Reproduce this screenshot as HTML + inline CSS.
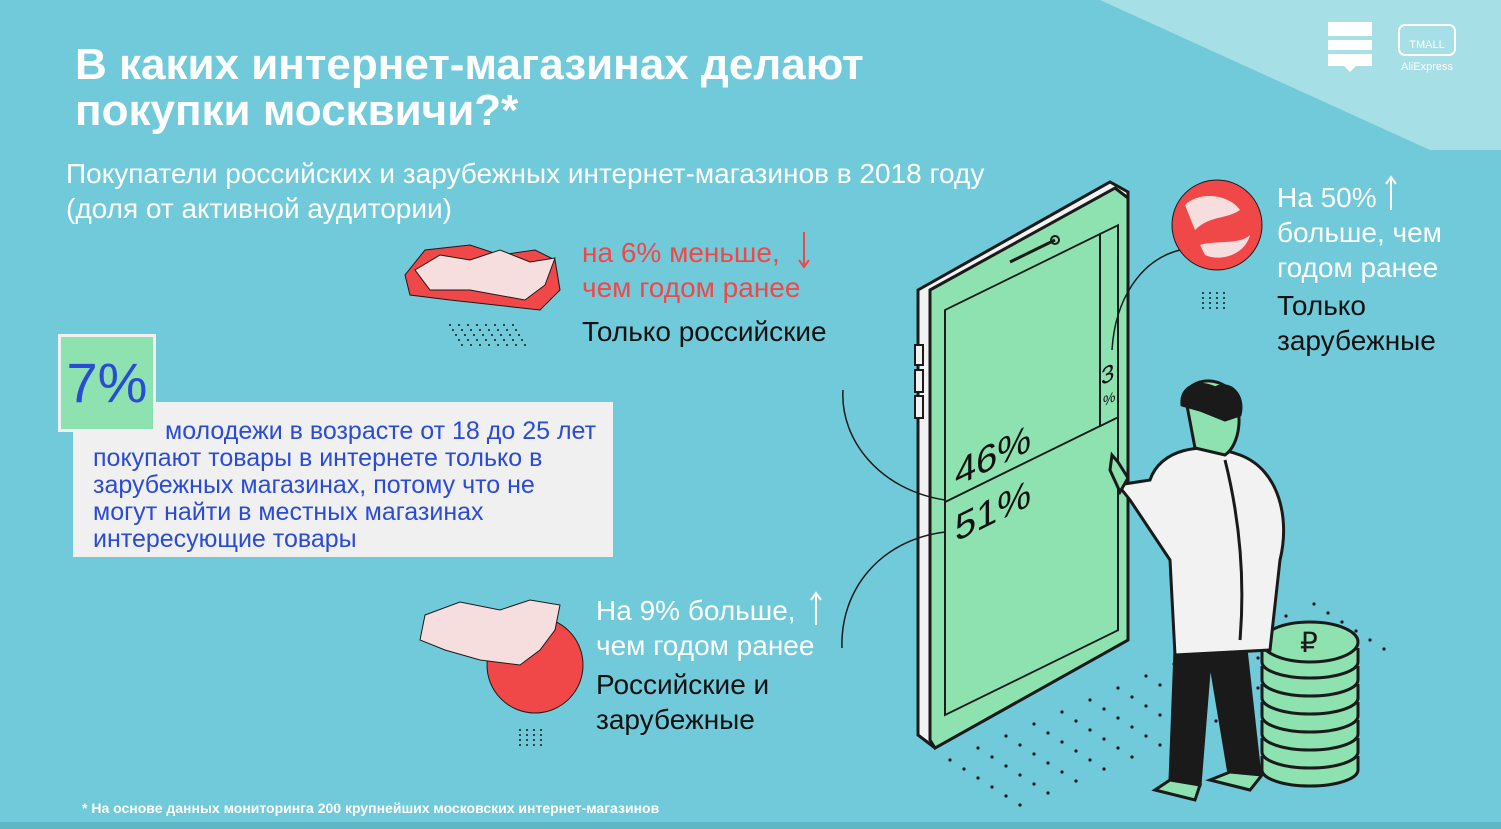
<!DOCTYPE html>
<html><head><meta charset="utf-8"><style>
body{margin:0;width:1501px;height:829px;overflow:hidden;background:#71cad9;font-family:"Liberation Sans",sans-serif;position:relative}
.t{position:absolute;margin:0}
</style></head><body>
<svg width="1501" height="829" style="position:absolute;left:0;top:0">
<polygon points="1100,0 1501,0 1501,150 1430,150" fill="#a6dfe6"/>
<rect x="0" y="822" width="1501" height="7" fill="#5fb7c6"/>
<g fill="#fff"><rect x="1328" y="22" width="44" height="14"/><rect x="1328" y="40" width="44" height="10"/><polygon points="1328,54 1372,54 1372,66 1356,66 1350,72 1344,66 1328,66"/></g>
<g><rect x="1399" y="25" width="56" height="30" rx="6" fill="none" stroke="#fff" stroke-width="2"/><text x="1427" y="48" font-size="11" fill="#fff" text-anchor="middle">TMALL</text><text x="1427" y="70" font-size="11" fill="#fff" text-anchor="middle">AliExpress</text></g>
<g fill="#1a1a1a" id="dots"></g>
<g>
<polygon points="918,290 1110,182 1128,192 1128,640 935,748 918,735" fill="#f2f2f2" stroke="#1a1a1a" stroke-width="3"/>
<polygon points="930,290 1115,188 1128,198 1128,640 935,748 930,740" fill="#8de2b0" stroke="#1a1a1a" stroke-width="3"/>
<g id="screen" transform="matrix(1,-0.49,0,1,945,310)"></g>
<line x1="1010" y1="262" x2="1055" y2="240" stroke="#1a1a1a" stroke-width="3"/>
<circle cx="1055" cy="240" r="4" fill="none" stroke="#1a1a1a" stroke-width="2"/>
<rect x="915" y="345" width="8" height="20" fill="#f2f2f2" stroke="#1a1a1a" stroke-width="2"/>
<rect x="915" y="370" width="8" height="22" fill="#f2f2f2" stroke="#1a1a1a" stroke-width="2"/>
<rect x="915" y="396" width="8" height="22" fill="#f2f2f2" stroke="#1a1a1a" stroke-width="2"/>
</g>
<g fill="none" stroke="#1a1a1a" stroke-width="1.5">
<path d="M843,390 C840,440 880,490 945,500"/><path d="M842,648 C840,590 880,540 945,532"/><path d="M1180,250 C1140,260 1115,300 1112,350"/>
</g>
<g stroke="#1a1a1a" stroke-width="3" fill="#8de2b0" id="coins"></g>
<g stroke="#1a1a1a" stroke-width="3">
<path d="M1175,650 L1170,780 L1200,785 L1210,660 L1230,780 L1260,775 L1245,640 Z" fill="#1a1a1a"/>
<path d="M1150,480 C1160,450 1200,440 1240,455 C1280,470 1290,520 1280,560 L1270,650 L1175,655 L1170,560 L1130,500 L1118,485 Z" fill="#f2f2f2"/>
<path d="M1225,460 C1240,520 1245,580 1240,640" fill="none"/>
<path d="M1185,395 C1190,380 1215,375 1230,390 C1245,410 1240,445 1225,455 L1195,448 Z" fill="#8de2b0"/>
<path d="M1182,405 C1180,385 1200,380 1215,388 C1230,380 1245,395 1240,415 L1225,420 L1200,410 Z" fill="#1a1a1a"/>
<path d="M1110,470 L1112,455 L1118,462 L1128,478 L1120,492 Z" fill="#8de2b0"/>
<path d="M1155,790 L1195,800 L1200,785 L1170,780 Z M1210,780 L1250,790 L1262,775 L1230,772 Z" fill="#8de2b0"/>
</g>
<g>
<polygon points="450,300 540,310 560,290 555,260 535,250 500,255 470,245 425,250 405,275 410,295" fill="#f04848" stroke="#1a1a1a" stroke-width="1"/>
<polygon points="415,270 440,255 470,260 500,250 530,262 555,258 545,285 525,300 470,290 430,290" fill="#f7dede" stroke="#1a1a1a" stroke-width="1"/>
</g>
<g>
<circle cx="535" cy="665" r="48" fill="#f04848" stroke="#1a1a1a" stroke-width="1"/>
<polygon points="425,615 460,602 500,610 530,600 560,605 555,630 540,650 520,665 480,660 445,650 420,640" fill="#f7dede" stroke="#1a1a1a" stroke-width="1"/>
</g>
<g>
<circle cx="1217" cy="225" r="45" fill="#f04848" stroke="#1a1a1a" stroke-width="1"/>
<path d="M1185,205 C1200,190 1230,195 1240,210 C1225,220 1210,215 1195,230 Z M1200,245 C1215,240 1240,245 1250,235 C1245,255 1220,262 1205,255 Z" fill="#f7dede"/>
</g>
<g stroke="#f04848" stroke-width="2" fill="none"><line x1="804" y1="232" x2="804" y2="266"/><polyline points="799,260 804,267 809,260"/></g>
<g stroke="#fff" stroke-width="2" fill="none"><line x1="816" y1="594" x2="816" y2="625"/><polyline points="811,600 816,593 821,600"/></g>
<g stroke="#fff" stroke-width="2" fill="none"><line x1="1391" y1="178" x2="1391" y2="210"/><polyline points="1386,184 1391,177 1396,184"/></g>
</svg>
<h1 class="t" style="left:75px;top:42px;font-size:44px;line-height:46px;color:#fff;font-weight:bold">В каких интернет-магазинах делают<br>покупки москвичи?*</h1>
<div class="t" style="left:66px;top:156px;font-size:28px;line-height:35px;color:#fff">Покупатели российских и зарубежных интернет-магазинов в 2018 году<br>(доля от активной аудитории)</div>
<div class="t" style="left:582px;top:235px;font-size:28px;line-height:35px;color:#f04848">на 6% меньше,<br>чем годом ранее</div>
<div class="t" style="left:582px;top:316px;font-size:28px;color:#111">Только российские</div>
<div class="t" style="left:596px;top:593px;font-size:28px;line-height:35px;color:#fff">На 9% больше,<br>чем годом ранее</div>
<div class="t" style="left:596px;top:667px;font-size:28px;line-height:35px;color:#111">Российские и<br>зарубежные</div>
<div class="t" style="left:1277px;top:180px;font-size:28px;line-height:35px;color:#fff">На 50%<br>больше, чем<br>годом ранее</div>
<div class="t" style="left:1277px;top:288px;font-size:28px;line-height:35px;color:#111">Только<br>зарубежные</div>
<div class="t" style="left:73px;top:402px;width:540px;height:155px;background:#f0f0f0"></div>
<div class="t" style="left:58px;top:334px;width:92px;height:92px;background:#8de2b0;border:3px solid #f0f0f0;font-size:56px;line-height:92px;text-align:center;color:#2a4bd6">7%</div>
<div class="t" style="left:93px;top:418px;font-size:25px;line-height:27px;color:#2a4bd6;white-space:nowrap"><span style="padding-left:72px">молодежи в возрасте от 18 до 25 лет</span><br>покупают товары в интернете только в<br>зарубежных магазинах, потому что не<br>могут найти в местных магазинах<br>интересующие товары</div>
<div class="t" style="left:82px;top:800px;font-size:14px;font-weight:bold;color:#fff">* На основе данных мониторинга 200 крупнейших московских интернет-магазинов</div>
<script>
const categories=["Только российские","Российские и зарубежные","Только зарубежные"];
const values=[46,51,3];
const NS="http://www.w3.org/2000/svg";
const scr=document.getElementById('screen');
const W=173,H=405,colW=18;
const hTop=H*values[0]/(values[0]+values[1]);
function mk(t,a){const e=document.createElementNS(NS,t);for(const k in a)e.setAttribute(k,a[k]);return e;}
const segs=[[0,0,W-colW,hTop],[0,hTop,W,H-hTop],[W-colW,0,colW,hTop]];
segs.forEach((s,i)=>{const r=mk('rect',{x:s[0],y:s[1],width:s[2],height:s[3],fill:'#8de2b0',stroke:'#1a1a1a','stroke-width':2});


scr.appendChild(r);});
const l1=mk('text',{x:10,y:hTop-10,'font-size':38,fill:'#111'});l1.textContent=values[0]+'%';


scr.appendChild(l1);
const l2=mk('text',{x:10,y:hTop+45,'font-size':38,fill:'#111'});l2.textContent=values[1]+'%';


scr.appendChild(l2);
const l3=mk('text',{x:W-colW+1,y:hTop-40,'font-size':24,fill:'#111'});l3.textContent=values[2];


scr.appendChild(l3);
const l4=mk('text',{x:W-colW+3,y:hTop-18,'font-size':14,fill:'#111'});l4.textContent='%';
scr.appendChild(l4);
const co=document.getElementById('coins');
for(let i=0;i<7;i++){const y=770-i*18;
co.appendChild(mk('path',{d:`M1262,${y-14} L1262,${y} A48,16 0 0 0 1358,${y} L1358,${y-14}`}));}
const coinTop=mk('ellipse',{cx:1310,cy:642,rx:48,ry:20});co.appendChild(coinTop);
const rub=mk('text',{x:1300,y:652,'font-size':28,fill:'#1a1a1a',stroke:'none'});rub.textContent='₽';co.appendChild(rub);
const d=document.getElementById('dots');
for(let i=0;i<14;i++)for(let j=0;j<6;j++){d.appendChild(mk('circle',{cx:950+i*28+j*14,cy:760-i*12+j*9,r:1.6}));}
for(let j=0;j<5;j++)for(let i=0;i<8;i++)d.appendChild(mk('circle',{cx:450+i*9+j*3,cy:325+j*5,r:1}));
for(let j=0;j<4;j++)for(let i=0;i<4;i++){d.appendChild(mk('circle',{cx:520+i*7,cy:730+j*5,r:1}));d.appendChild(mk('circle',{cx:1203+i*7,cy:293+j*5,r:1}));}
</script>
</body></html>
